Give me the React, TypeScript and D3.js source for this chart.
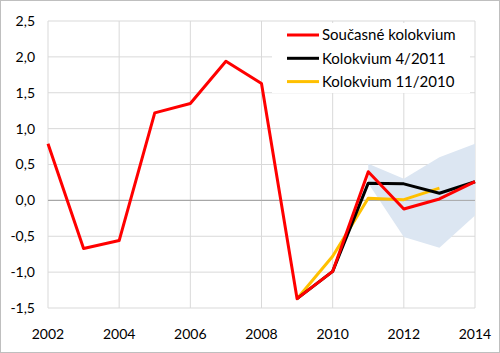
import * as d3 from 'd3';
import React from 'react';

const width = 500;
const height = 353;
const margin = { top: 21, right: 25, bottom: 45, left: 48 };

const years = [2002, 2003, 2004, 2005, 2006, 2007, 2008, 2009, 2010, 2011, 2012, 2013, 2014];
const current = [0.79, -0.67, -0.56, 1.22, 1.35, 1.94, 1.63, -1.37, -0.99, 0.4, -0.12, 0.02, 0.26];

const forecastYears = [2009, 2010, 2011, 2012, 2013, 2014];
const april2011 = [-1.37, -0.99, 0.24, 0.23, 0.1, 0.26];

const novYears = [2009, 2010, 2011, 2012, 2013];
const nov2010 = [-1.37, -0.78, 0.03, 0.01, 0.17];

const bandYears = [2011, 2012, 2013, 2014];
const bandLow = [0.24, -0.51, -0.66, -0.21];
const bandHigh = [0.51, 0.3, 0.6, 0.79];

const yTicks = [-1.5, -1.0, -0.5, 0, 0.5, 1.0, 1.5, 2.0, 2.5];
const xTicks = [2002, 2004, 2006, 2008, 2010, 2012, 2014];

const legendItems = [
  { label: 'Současné kolokvium', color: '#FF0000' },
  { label: 'Kolokvium 4/2011', color: '#000000' },
  { label: 'Kolokvium 11/2010', color: '#FFC000' },
];

const font = 'Lato, "Open Sans", sans-serif';

const App = () => {
  const xScale = d3.scaleLinear().domain([2002, 2014]).range([margin.left, width - margin.right]);
  const yScale = d3.scaleLinear().domain([-1.5, 2.5]).range([height - margin.bottom, margin.top]);

  const line = d3.line<[number, number]>()
    .x(d => xScale(d[0]))
    .y(d => yScale(d[1]));

  const area = d3.area<number>()
    .x((d, i) => xScale(bandYears[i]))
    .y0((d, i) => yScale(bandLow[i]))
    .y1(d => yScale(d));

  const redPath = line(years.map((y, i) => [y, current[i]]));
  const blackPath = line(forecastYears.map((y, i) => [y, april2011[i]]));
  const yellowPath = line(novYears.map((y, i) => [y, nov2010[i]]));
  const bandPath = area(bandHigh);

  const fmt = (v: number) => d3.format('.1f')(v).replace('.', ',').replace('−', '-');

  return (
    <svg width={width} height={height} style={{ position: 'absolute', left: 0, top: 0 }}>
      <rect x={0.5} y={0.5} width={width - 1} height={height - 1} fill="#fff" stroke="#BFBFBF" />
      {yTicks.map(t => (
        <line key={'h' + t} x1={margin.left} x2={width - margin.right} y1={yScale(t)} y2={yScale(t)}
          stroke={t === 0 ? '#A6A6A6' : '#D9D9D9'} strokeWidth={1} />
      ))}
      {xTicks.map(t => (
        <line key={'v' + t} x1={xScale(t)} x2={xScale(t)} y1={margin.top} y2={height - margin.bottom}
          stroke="#D9D9D9" strokeWidth={1} />
      ))}
      <path d={bandPath || ''} fill="#DCE6F2" />
      <line x1={margin.left} x2={width - margin.right} y1={yScale(0)} y2={yScale(0)} stroke="#A6A6A6" strokeWidth={1} />
      <path d={yellowPath || ''} fill="none" stroke="#FFC000" strokeWidth={3} strokeLinejoin="round" />
      <path d={blackPath || ''} fill="none" stroke="#000" strokeWidth={3} strokeLinejoin="round" />
      <path d={redPath || ''} fill="none" stroke="#FF0000" strokeWidth={3} strokeLinejoin="round" />

      {yTicks.map(t => (
        <text key={'yl' + t} x={35} y={yScale(t)} dy="0.35em" textAnchor="end"
          fontFamily={font} fontSize={14} fill="#000">{fmt(t)}</text>
      ))}
      {xTicks.map(t => (
        <text key={'xl' + t} x={xScale(t)} y={339} textAnchor="middle"
          fontFamily={font} fontSize={14} fill="#000">{t}</text>
      ))}

      <rect x={272} y={23} width={198} height={70} fill="#fff" />
      {legendItems.map((d, i) => (
        <g key={d.label} transform={`translate(287, ${35 + i * 23.3})`}>
          <line x1={0} x2={32} y1={0} y2={0} stroke={d.color} strokeWidth={3} />
          <text x={35} y={0} dy="0.35em" fontFamily={font} fontSize={15} fill="#000">{d.label}</text>
        </g>
      ))}
    </svg>
  );
};

export default App;
